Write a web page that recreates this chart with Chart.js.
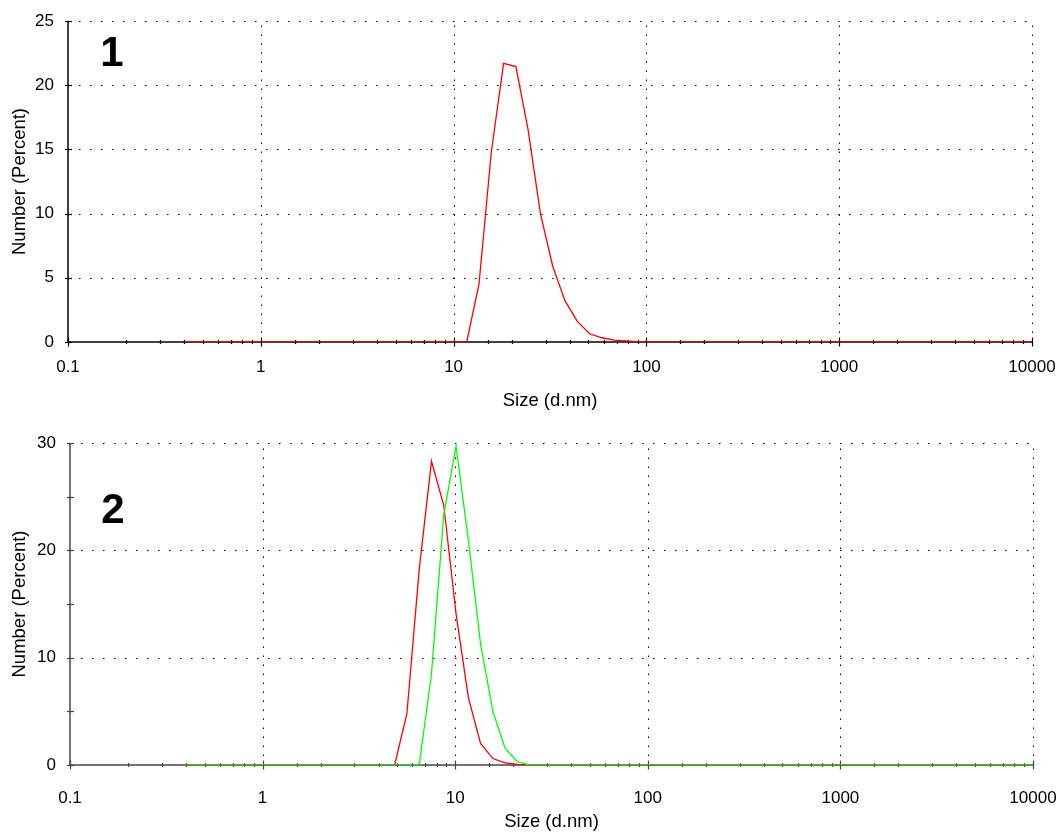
<!DOCTYPE html>
<html>
<head>
<meta charset="utf-8">
<script src="https://cdn.jsdelivr.net/npm/chart.js@4"></script>
<style>
  body { margin: 0; background: #fff; }
  #p1 { position: absolute; left: 0; top: 0; width: 1061px; height: 420px; }
  #p2 { position: absolute; left: 0; top: 420px; width: 1061px; height: 413px; }
</style>
</head>
<body>
<div id="p1"><canvas id="c1"></canvas></div>
<div id="p2"><canvas id="c2"></canvas></div>
<script>
// size classes (d.nm)
const sizes = [0.4, 4.849, 5.615, 6.503, 7.531, 8.721, 10.10, 11.70, 13.54, 15.69, 18.17, 21.04, 24.36,
               28.21, 32.67, 37.84, 43.82, 50.75, 58.77, 68.06, 78.82, 91.28, 105.7, 10000]

// panel 1
const numero1 = [0, 0, 0, 0, 0, 0, 0, 0, 4.5, 14.8, 21.7, 21.45, 16.5,
                 10.0, 5.9, 3.2, 1.6, 0.64, 0.33, 0.15, 0.08, 0, 0, 0]

// panel 2
const numero2Vermelho = [0, 0, 4.8, 18.2, 28.3, 24.2, 14.1, 6.3, 2.0, 0.6, 0.2, 0.05, 0,
                         0, 0, 0, 0, 0, 0, 0, 0, 0, 0, 0]
const numero2Verde = [0, 0, 0, 0, 8.5, 23.3, 29.7, 21.0, 11.3, 5.0, 1.55, 0.3, 0,
                      0, 0, 0, 0, 0, 0, 0, 0, 0, 0, 0]

const xTicks = [0.1, 1, 10, 100, 1000, 10000]
const fonte = '"Liberation Sans", Arial, sans-serif'

function ehDecada (v) {
    const l = Math.log10(v)
    return Math.abs(l - Math.round(l)) < 1e-6
}

function pontos (vals) {
    return sizes.map((s, i) => ({ x: s, y: vals[i] }))
}

function linha (ctx, x1, y1, x2, y2) {
    ctx.beginPath()
    ctx.moveTo(x1, y1)
    ctx.lineTo(x2, y2)
    ctx.stroke()
}

const eixos = {
    id: 'eixos',
    beforeDatasetsDraw (chart, args, opts) {
        const ctx = chart.ctx
        const a = chart.chartArea
        const sx = chart.scales.x
        const sy = chart.scales.y
        ctx.save()
        ctx.strokeStyle = '#000'
        ctx.lineWidth = 1

        // dotted grid
        ctx.setLineDash([1.5, 9.5])
        sy.ticks.forEach(t => {
            if (t.value > 0 && t.value % opts.yMajor === 0) {
                const py = Math.round(sy.getPixelForValue(t.value)) + 0.5
                linha(ctx, a.left, py, a.right, py)
            }
        })
        ctx.setLineDash([1.5, 7.5])
        xTicks.forEach(v => {
            if (v > 0.1) {
                const px = Math.round(sx.getPixelForValue(v)) + 0.5
                linha(ctx, px, a.bottom, px, a.top)
            }
        })
        ctx.setLineDash([])

        // axes
        ctx.strokeStyle = opts.cor
        ctx.lineWidth = 1.5
        linha(ctx, a.left, a.top, a.left, a.bottom)
        linha(ctx, a.left, a.bottom, a.right, a.bottom)

        // tick marks
        ctx.lineWidth = 1.2
        sx.ticks.forEach(t => {
            const px = Math.round(sx.getPixelForValue(t.value)) + 0.5
            const h = ehDecada(t.value) ? 4.5 : 2
            linha(ctx, px, a.bottom - h, px, a.bottom + h)
        })
        sy.ticks.forEach(t => {
            const py = Math.round(sy.getPixelForValue(t.value)) + 0.5
            linha(ctx, a.left - 3, py, a.left + 4, py)
        })
        ctx.restore()
    },
    afterDraw (chart, args, opts) {
        const ctx = chart.ctx
        ctx.save()
        ctx.fillStyle = '#000'
        ctx.font = 'bold 42px ' + fonte
        ctx.textAlign = 'center'
        ctx.textBaseline = 'alphabetic'
        ctx.fillText(opts.painel, opts.px, opts.py)
        ctx.restore()
    }
}

function criarGrafico (id, datasets, cfg) {
    new Chart(document.getElementById(id), {
        type: 'line',
        data: { datasets: datasets },
        plugins: [eixos],
        options: {
            responsive: true,
            maintainAspectRatio: false,
            animation: false,
            layout: { padding: { top: cfg.topo, right: cfg.direita, left: 0, bottom: 0 } },
            elements: { point: { radius: 0 }, line: { tension: 0, borderWidth: 1.3 } },
            scales: {
                x: {
                    type: 'logarithmic',
                    min: 0.1,
                    max: 10000,
                    grid: { display: false },
                    border: { display: false },
                    ticks: {
                        autoSkip: false,
                        maxRotation: 0,
                        padding: cfg.xPad,
                        color: '#000',
                        font: { family: fonte, size: 17 },
                        callback: (v) => ehDecada(v) ? (v < 1 ? '0.1' : String(Math.round(v))) : ''
                    },
                    title: {
                        display: true,
                        text: 'Size (d.nm)',
                        color: '#000',
                        font: { family: fonte, size: 18.5 },
                        padding: { top: 0, bottom: cfg.tituloPad }
                    },
                    afterFit: (s) => {
                        s.height = cfg.xAltura
                        s.paddingLeft = 0
                        s.paddingRight = 0
                    }
                },
                y: {
                    min: 0,
                    max: cfg.yMax,
                    grid: { display: false },
                    border: { display: false },
                    ticks: {
                        stepSize: 5,
                        padding: 6,
                        color: '#000',
                        font: { family: fonte, size: 17 },
                        callback: (v) => v % cfg.yMajor === 0 ? String(v) : ''
                    },
                    title: {
                        display: true,
                        text: 'Number (Percent)',
                        color: '#000',
                        font: { family: fonte, size: 18.5 },
                        padding: { top: 9, bottom: 0 }
                    },
                    afterFit: (s) => {
                        s.width = cfg.yLargura
                        s.paddingTop = 0
                        s.paddingBottom = 0
                    }
                }
            },
            plugins: {
                legend: { display: false },
                tooltip: { enabled: false },
                eixos: { yMajor: cfg.yMajor, cor: cfg.cor, painel: cfg.painel, px: cfg.painelX, py: cfg.painelY }
            }
        }
    })
}

criarGrafico('c1', [
    { data: pontos(numero1), borderColor: '#ff0000' }
], { topo: 21, direita: 29, xAltura: 78, yLargura: 68, yMax: 25, yMajor: 5, xPad: 7, tituloPad: 8,
     cor: '#000', painel: '1', painelX: 112, painelY: 66 })

criarGrafico('c2', [
    { data: pontos(numero2Verde), borderColor: '#00ff00', order: 0 },
    { data: pontos(numero2Vermelho), borderColor: '#ff0000', order: 1 }
], { topo: 23, direita: 28, xAltura: 68, yLargura: 70, yMax: 30, yMajor: 10, xPad: 15, tituloPad: 0,
     cor: '#444', painel: '2', painelX: 113, painelY: 103 })
</script>
</body>
</html>
